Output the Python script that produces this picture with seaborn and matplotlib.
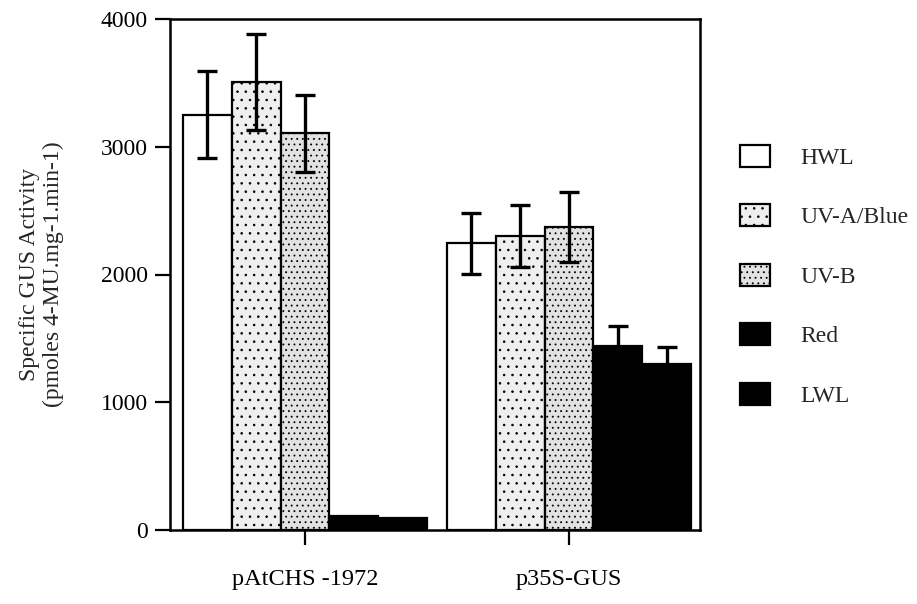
import matplotlib
matplotlib.use("Agg")
import matplotlib.pyplot as plt
from matplotlib.patches import Patch
import numpy as np
import pandas as pd
import seaborn as sns

# Construct names (x-axis groups) and light treatments (hue)
constructs = ["pAtCHS -1972", "p35S-GUS"]
treatments = ["HWL", "UV-A/Blue", "UV-B", "Red", "LWL"]

# Mean specific GUS activity per treatment, one list per construct
activity_chs = [3250, 3510, 3105, 110, 95]
activity_35s = [2245, 2300, 2370, 1440, 1300]

# Standard error per treatment
err_chs = [340, 375, 300, 0, 0]
err_35s = [240, 245, 275, 155, 130]

yticks = [0, 1000, 2000, 3000, 4000]

df = pd.DataFrame({
    "construct": np.repeat(constructs, len(treatments)),
    "treatment": treatments * len(constructs),
    "activity": activity_chs + activity_35s,
    "err": err_chs + err_35s,
})

sns.set_theme(style="ticks")
plt.rcParams["font.family"] = ["Liberation Serif", "DejaVu Serif"]
plt.rcParams["hatch.linewidth"] = 0.6

fig = plt.figure(figsize=(9.17, 6.04), dpi=100)
ax = fig.add_axes([170 / 917, 1 - 530 / 604, 530 / 917, 511 / 604])

sns.barplot(data=df, x="construct", y="activity", hue="treatment",
            order=constructs, hue_order=treatments, errorbar=None,
            width=0.925, palette=["white"] * 5, edgecolor="black",
            linewidth=1.6, legend=False, ax=ax)

styles = {
    "HWL": dict(facecolor="white", hatch=None),
    "UV-A/Blue": dict(facecolor="#efefef", hatch=".."),
    "UV-B": dict(facecolor="#e2e2e2", hatch="..."),
    "Red": dict(facecolor="black", hatch=None),
    "LWL": dict(facecolor="black", hatch=None),
}

# seaborn adds bars hue level by hue level
bars = ax.patches
for i, t in enumerate(treatments):
    for j in range(len(constructs)):
        p = bars[i * len(constructs) + j]
        p.set_facecolor(styles[t]["facecolor"])
        if styles[t]["hatch"]:
            p.set_hatch(styles[t]["hatch"])
        p.set_edgecolor("black")

# Error bars at bar centres
for i, t in enumerate(treatments):
    for j, c in enumerate(constructs):
        p = bars[i * len(constructs) + j]
        row = df[(df.construct == c) & (df.treatment == t)].iloc[0]
        if row.err > 0:
            xc = p.get_x() + p.get_width() / 2
            ax.errorbar(xc, row.activity, yerr=row.err, fmt="none",
                        ecolor="black", elinewidth=2.4, capsize=7,
                        capthick=2.4, zorder=5)

ax.set_xlim(-0.511, 1.496)
ax.set_ylim(0, 4000)
ax.set_yticks(yticks)
ax.set_yticklabels([str(v) for v in yticks], fontsize=17)
ax.set_xticks(range(len(constructs)))
ax.set_xticklabels(constructs, fontsize=17.5)
ax.set_xlabel("")
ax.set_ylabel("Specific GUS Activity\n(pmoles 4-MU.mg-1.min-1)", fontsize=17,
              linespacing=1.15)
ax.yaxis.set_label_coords(-0.2, 0.5)

for s in ax.spines.values():
    s.set_visible(True)
    s.set_linewidth(1.8)
    s.set_color("black")
ax.tick_params(axis="both", direction="out", length=11, width=1.6,
               colors="black")
ax.tick_params(axis="y", pad=5)
ax.tick_params(axis="x", pad=17)

handles = [Patch(facecolor=styles[t]["facecolor"], hatch=styles[t]["hatch"],
                 edgecolor="black", linewidth=1.6) for t in treatments]
fig.legend(handles, treatments, loc="upper left",
           bbox_to_anchor=(740 / 917, 1 - 145 / 604), frameon=False,
           fontsize=17, handlelength=1.25, handleheight=1.05,
           labelspacing=1.5, handletextpad=1.3, borderpad=0,
           borderaxespad=0)

fig.savefig("out.png", dpi=100)
